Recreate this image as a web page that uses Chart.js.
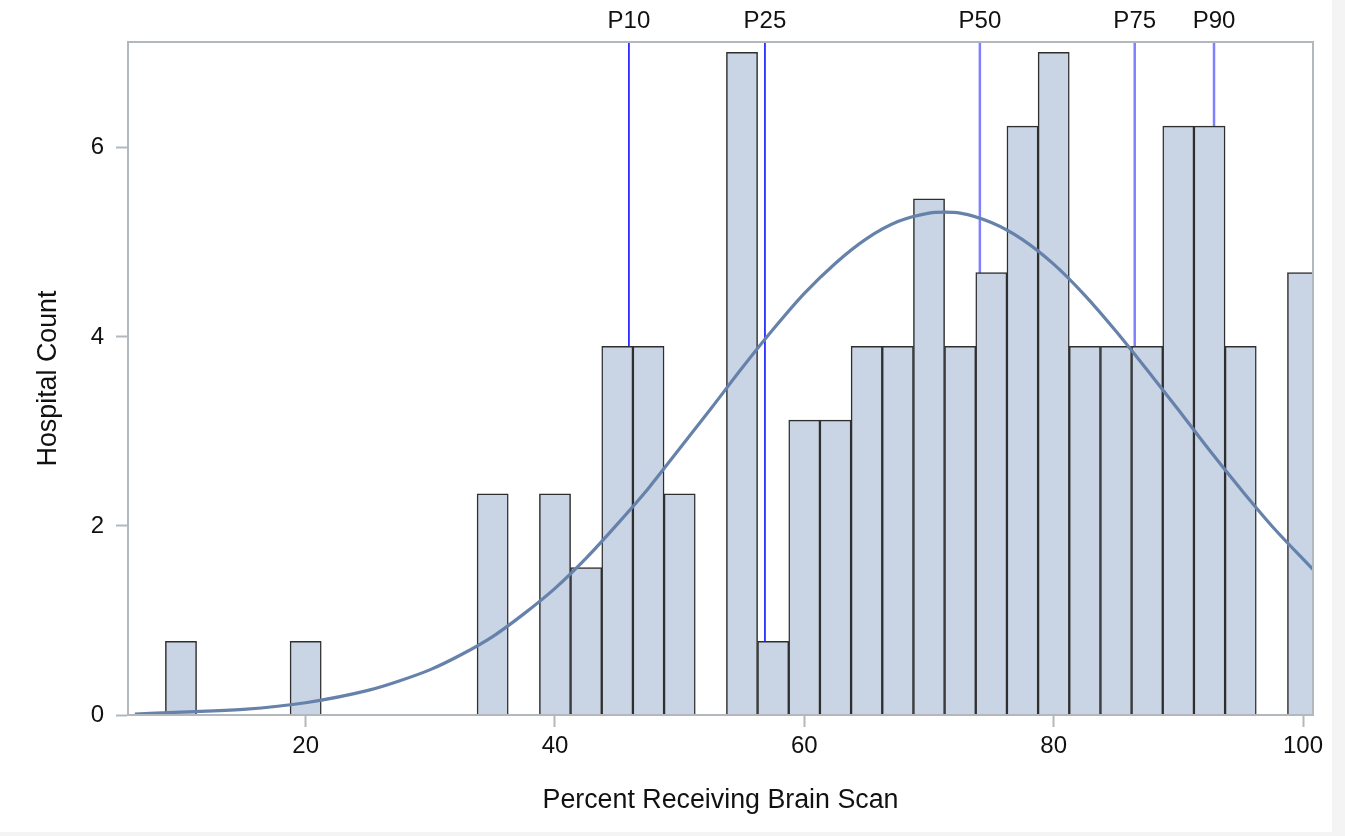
<!DOCTYPE html>
<html>
<head>
<meta charset="utf-8">
<script src="https://cdn.jsdelivr.net/npm/chart.js@4.4.1/dist/chart.umd.min.js"></script>
<style>
  html, body { margin: 0; padding: 0; background: #f4f4f4; }
  #wrap { position: absolute; left: 0; top: 0; width: 1332px; height: 832px; background: #fff; }
</style>
</head>
<body>
<div id="wrap"><canvas id="canvas-hist" width="1332" height="832"></canvas></div>
<script>
// histogram bins (midpoints) and percent of hospitals in each bin
const binMids = [10, 12.5, 15, 17.5, 20, 22.5, 25, 27.5, 30, 32.5, 35, 37.5, 40, 42.5, 45, 47.5, 50, 52.5,
  55, 57.5, 60, 62.5, 65, 67.5, 70, 72.5, 75, 77.5, 80, 82.5, 85, 87.5, 90, 92.5, 95, 97.5, 100];
const binPercents = [0.78, 0, 0, 0, 0.78, 0, 0, 0, 0, 0, 2.34, 0, 2.34, 1.56, 3.9, 3.9, 2.34, 0,
  7.01, 0.78, 3.12, 3.12, 3.9, 3.9, 5.46, 3.9, 4.68, 6.23, 7.01, 3.9, 3.9, 3.9, 6.23, 6.23, 3.9, 0, 4.68];

// fitted normal curve
const curveX = [6.3, 10, 15, 20, 25, 27.5, 30, 32.5, 35, 37.5, 40, 42.5, 45, 47.5, 50, 52.5, 55, 57.5, 60,
  62.5, 65, 67.5, 70, 71.2, 72.5, 75, 77.5, 80, 82.5, 85, 87.5, 90, 92.5, 95, 97.5, 100.8];
const curveY = [0.01, 0.03, 0.06, 0.13, 0.26, 0.36, 0.48, 0.64, 0.83, 1.07, 1.34, 1.66, 2.02, 2.40, 2.82, 3.24, 3.67, 4.08, 4.46,
  4.78, 5.04, 5.22, 5.31, 5.32, 5.31, 5.21, 5.03, 4.77, 4.44, 4.06, 3.65, 3.23, 2.80, 2.39, 2.00, 1.54];

// percentile reference lines
const pctLabels = ["P10", "P25", "P50", "P75", "P90"];
const pctValues = [45.93, 56.84, 74.08, 86.5, 92.86];
const pctColors = ["#0000ff", "#0000ff", "#8080ff", "#8080ff", "#8080ff"];
const pctWidths = [1.5, 1.5, 2.5, 2.5, 2.5];

const xTicks = [20, 40, 60, 80, 100];
const yTicks = [0, 2, 4, 6];
const xMin = 5.75, xMax = 100.8;
const yMin = 0, yMax = 7.12;

const FONT = '"Liberation Sans", Arial, sans-serif';

window.onload = function () {
  const bars = binMids.map((m, i) => ({ x: m, y: binPercents[i] > 0 ? binPercents[i] : null }));
  const curve = curveX.map((v, i) => ({ x: v, y: curveY[i] }));

  const refLines = pctValues.map((v, i) => ({
    type: "line",
    label: pctLabels[i],
    data: [{ x: v, y: yMin }, { x: v, y: yMax }],
    borderColor: pctColors[i],
    borderWidth: pctWidths[i],
    pointRadius: 0,
    order: 3,
  }));

  const framePlugin = {
    id: "frame",
    afterDatasetsDraw(chart) {
      const { ctx, chartArea: a } = chart;
      const x = chart.scales.x;
      ctx.save();
      ctx.strokeStyle = "#b3b8bd";
      ctx.lineWidth = 2;
      ctx.strokeRect(a.left, a.top, a.right - a.left, a.bottom - a.top);
      ctx.fillStyle = "#111";
      ctx.font = "24px " + FONT;
      ctx.textAlign = "center";
      ctx.textBaseline = "bottom";
      pctLabels.forEach((lab, i) => {
        ctx.fillText(lab, x.getPixelForValue(pctValues[i]), a.top - 9);
      });
      ctx.restore();
    },
  };

  new Chart(document.getElementById("canvas-hist"), {
    type: "bar",
    data: {
      datasets: [
        {
          type: "line",
          data: curve,
          borderColor: "#6682ab",
          borderWidth: 3.2,
          pointRadius: 0,
          cubicInterpolationMode: "monotone",
          order: 0,
        },
        {
          type: "bar",
          data: bars,
          backgroundColor: "#c9d4e4",
          borderColor: "#2f2f2f",
          borderWidth: 1.5,
          borderSkipped: "bottom",
          barPercentage: 1,
          categoryPercentage: 1,
          clip: 0,
          order: 1,
        },
        ...refLines,
      ],
    },
    options: {
      responsive: false,
      animation: false,
      devicePixelRatio: 1,
      layout: { padding: { left: 0, top: 42, right: 19, bottom: 0 } },
      scales: {
        x: {
          type: "linear",
          offset: false,
          min: xMin,
          max: xMax,
          afterBuildTicks: (axis) => { axis.ticks = xTicks.map((v) => ({ value: v })); },
          afterFit: (axis) => { axis.height = 117; },
          grid: { display: true, offset: false, drawOnChartArea: false, tickLength: 12, tickColor: "#b3b8bd", tickWidth: 2 },
          border: { display: true, color: "#b3b8bd", width: 2 },
          ticks: { color: "#111", font: { family: FONT, size: 24 }, padding: 5, maxRotation: 0 },
          title: {
            display: true,
            text: "Percent Receiving Brain Scan",
            color: "#111",
            font: { family: FONT, size: 26.8 },
            padding: { top: 0, bottom: 15 },
          },
        },
        y: {
          type: "linear",
          min: yMin,
          max: yMax,
          afterBuildTicks: (axis) => { axis.ticks = yTicks.map((v) => ({ value: v })); },
          afterFit: (axis) => { axis.width = 128; },
          grid: { display: true, drawOnChartArea: false, tickLength: 12, tickColor: "#b3b8bd", tickWidth: 2 },
          border: { display: true, color: "#b3b8bd", width: 2 },
          ticks: { color: "#111", font: { family: FONT, size: 24 }, padding: 12 },
          title: {
            display: true,
            text: "Hospital Count",
            color: "#111",
            font: { family: FONT, size: 26.8 },
            padding: { top: 33, bottom: 0 },
          },
        },
      },
      plugins: {
        legend: { display: false },
        tooltip: { enabled: false },
      },
    },
    plugins: [framePlugin],
  });
};
</script>
</body>
</html>
